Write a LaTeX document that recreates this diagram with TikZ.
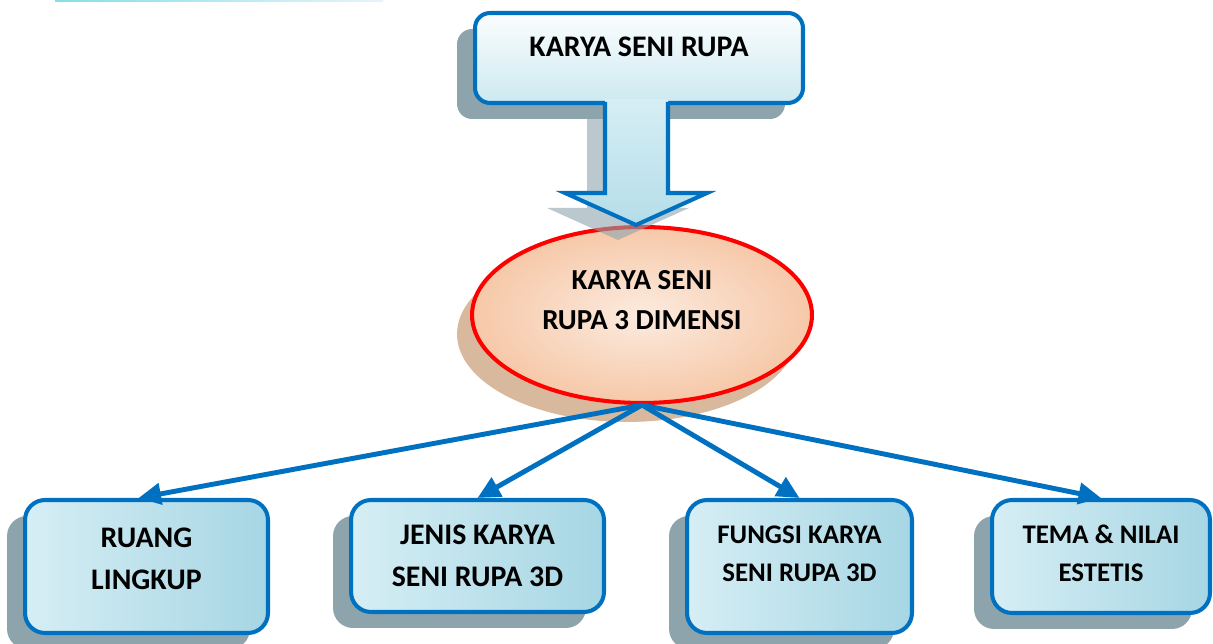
\documentclass[tikz,border=0pt]{standalone}
\usepackage{fontspec}
\setmainfont{Carlito}
\usetikzlibrary{arrows.meta,shapes.geometric,shadows}
\definecolor{garisbiru}{HTML}{0070C0}
\definecolor{bayangan}{HTML}{8EA4AC}
\definecolor{bayangancoklat}{HTML}{C99B74}
\definecolor{birumuda}{HTML}{D6EEF4}
\definecolor{birutua}{HTML}{A6D6E4}
\definecolor{persik}{HTML}{FCEBDF}
\definecolor{persiktua}{HTML}{F6C8A8}
\begin{document}
\begin{tikzpicture}[x=0.02cm, y=-0.02cm,
    kotak/.style={draw=garisbiru, line width=2.3pt, rounded corners=0.4cm,
        align=center, inner sep=0pt,
        left color=birumuda, middle color=birumuda!70!white, right color=birutua,
        general shadow={shadow xshift=-0.36cm, shadow yshift=-0.32cm, fill=bayangan},
        font=\bfseries\fontsize{17}{24}\selectfont},
    kecil/.style={font=\bfseries\fontsize{15.3}{21.5}\selectfont},
    panah/.style={draw=garisbiru, line width=2.8pt,
        -{Triangle[length=0.45cm, width=0.42cm]}}]
    \useasboundingbox (0,0) rectangle (1213,644);

    % Sisa kotak di pojok kiri atas
    \shade[left color=birutua!80!cyan, right color=birumuda!60!white] (55,-10) rectangle (383,2);

    % Kotak utama
    \node[kotak, rounded corners=0.3cm, top color=white!90!birumuda, bottom color=birumuda!80!birutua,
        minimum width=6.56cm, minimum height=1.8cm, text depth=0.44cm] (atas) at (639,58)
        {KARYA SENI RUPA};

    % Elips
    \node[ellipse, draw=red, line width=2.3pt, inner sep=0pt, align=center,
        inner color=persik, outer color=persiktua,
        general shadow={shadow xshift=-0.3cm, shadow yshift=-0.38cm, fill=bayangancoklat, opacity=.7},
        minimum width=6.8cm, minimum height=3.52cm, text depth=0.6cm,
        font=\bfseries\fontsize{16.5}{23}\selectfont] (elips) at (642,315)
        {KARYA SENI\\RUPA 3 DIMENSI};

    % Panah besar (bayangan, lalu isi dan garis tepi)
    \fill[bayangan, opacity=.6, shift={(-18,15)}] (605,103) -- (605,193) -- (565,193) -- (636,225)
        -- (707,193) -- (668,193) -- (668,103) -- cycle;
    \shade[top color=birumuda, bottom color=birutua!70!birumuda] (605,99) -- (605,193) -- (565,193)
        -- (636,225) -- (707,193) -- (668,193) -- (668,99) -- cycle;
    \draw[garisbiru, line width=2.3pt] (605,102) -- (605,193) -- (565,193) -- (636,225)
        -- (707,193) -- (668,193) -- (668,102);

    % Kotak bawah
    \node[kotak, minimum width=4.86cm, minimum height=2.66cm, text depth=0.32cm] (ruang)
        at (146.5,566.5) {RUANG\\LINGKUP};
    \node[kotak, minimum width=5.06cm, minimum height=2.24cm] (jenis) at (477.5,556)
        {JENIS KARYA\\SENI RUPA 3D};
    \node[kotak, kecil, minimum width=4.5cm, minimum height=2.66cm, text depth=0.52cm] (fungsi)
        at (799.5,566.5) {FUNGSI KARYA\\SENI RUPA 3D};
    \node[kotak, kecil, minimum width=4.36cm, minimum height=2.26cm, text depth=0.12cm] (tema)
        at (1101,556.5) {TEMA \& NILAI\\ESTETIS};

    % Penghubung
    \draw[panah] (elips.south) -- ([xshift=-0.16cm]ruang.north);
    \draw[panah] (elips.south) -- (jenis.north);
    \draw[panah] (elips.south) -- (fungsi.north);
    \draw[panah] (elips.south) -- (tema.north);
\end{tikzpicture}
\end{document}
